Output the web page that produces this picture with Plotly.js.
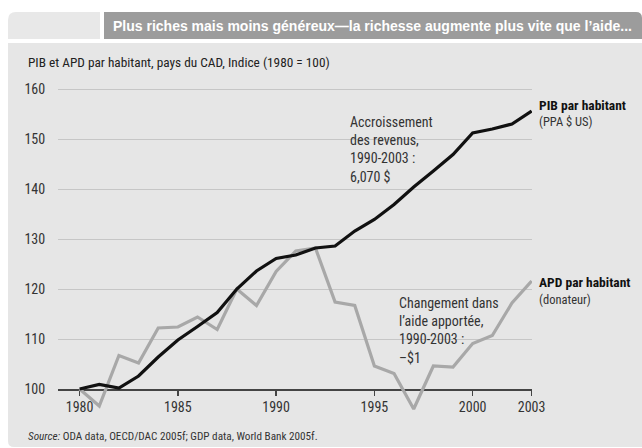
<!DOCTYPE html>
<html>
<head>
<meta charset="utf-8">
<script src="https://cdn.plot.ly/plotly-3.0.1.min.js"></script>
<style>html,body{margin:0;padding:0;background:#fff;overflow:hidden;}#chart{width:642px;height:448px;}</style>
</head>
<body>
<div id="chart"></div>
<script>
// ---- data ----
const years = [1980,1981,1982,1983,1984,1985,1986,1987,1988,1989,1990,1991,1992,1993,1994,1995,1996,1997,1998,1999,2000,2001,2002,2003];
const pibParHabitant = [100,100.9,100.2,102.6,106.4,109.8,112.5,115.3,120.0,123.6,126.1,126.8,128.2,128.6,131.6,133.9,136.9,140.4,143.6,146.9,151.2,152.0,153.0,155.6];
const apdParHabitant = [100,96.6,106.7,105.2,112.2,112.4,114.4,111.9,120.0,116.7,123.5,127.6,128.2,117.4,116.7,104.6,103.1,96.0,104.6,104.4,109.1,110.7,117.2,121.6];
const yTicks = [100,110,120,130,140,150,160];
const xTicks = [1980,1985,1990,1995,2000,2003];

const FONT = "'Liberation Sans Narrow', 'Arial Narrow', 'Roboto Condensed', sans-serif";
const HFONT = "'Liberation Sans', Arial, sans-serif";
const W = 642, H = 448;
const M = {l:58, r:110, t:84, b:34};
const PW = W - M.l - M.r, PH = H - M.t - M.b;
const px = x => (x - M.l) / PW;
const py = y => (H - M.b - y) / PH;

function roundRect(x0,y0,x1,y1,rtl,rtr,rbr,rbl){
  const P = (x,y)=> px(x).toFixed(5)+','+py(y).toFixed(5);
  let d = 'M'+P(x0+rtl,y0)+' L'+P(x1-rtr,y0);
  if(rtr) d += ' Q'+P(x1,y0)+' '+P(x1,y0+rtr);
  d += ' L'+P(x1,y1-rbr);
  if(rbr) d += ' Q'+P(x1,y1)+' '+P(x1-rbr,y1);
  d += ' L'+P(x0+rbl,y1);
  if(rbl) d += ' Q'+P(x0,y1)+' '+P(x0,y1-rbl);
  d += ' L'+P(x0,y0+rtl);
  if(rtl) d += ' Q'+P(x0,y0)+' '+P(x0+rtl,y0);
  return d+' Z';
}

const traces = [
  {x: years, y: apdParHabitant, type:'scatter', mode:'lines', name:'APD',
   line:{color:'#a8a8a8', width:3.2}, hoverinfo:'skip'},
  {x: years, y: pibParHabitant, type:'scatter', mode:'lines', name:'PIB',
   line:{color:'#111111', width:3.2}, hoverinfo:'skip'}
];

const shapes = [
  {type:'path', xref:'paper', yref:'paper', layer:'below', path: roundRect(8,43,643,447,0,0,0,6), fillcolor:'#e6e6e6', line:{width:0}},
  {type:'path', xref:'paper', yref:'paper', layer:'below', path: roundRect(8,12,100,39,8,0,0,0), fillcolor:'#e8e8e8', line:{width:0}},
  {type:'path', xref:'paper', yref:'paper', layer:'below', path: roundRect(104,12,642,39,0,6,0,0), fillcolor:'#9c9c9c', line:{width:0}},
  {type:'rect', xref:'paper', yref:'paper', layer:'between', x0:px(342), x1:px(430), y0:py(146), y1:py(136), fillcolor:'#e6e6e6', line:{width:0}}
];

const ann = (x,y,text,size,color,family)=>({xref:'paper', yref:'paper', x:px(x), y:py(y), text:text, showarrow:false,
  xanchor:'left', yanchor:'middle', align:'left', font:{family:family||FONT, size:size, color:color}});

const annotations = [
  ann(111,25.5,'<b>Plus riches mais moins généreux—la richesse augmente plus vite que l\u2019aide...</b>',14,'#ffffff',HFONT),
  ann(26,62,'PIB et APD par habitant, pays du CAD, Indice (1980 = 100)',13.3,'#222222'),
  ann(348,149,'Accroissement<br>des revenus,<br>1990-2003 :<br>6,070 $',14,'#333333'),
  ann(397,330,'Changement dans<br>l\u2019aide apportée,<br>1990-2003 :<br>\u2013$1',14,'#333333'),
  ann(537,105,'<b>PIB par habitant</b>',13.5,'#111111'),
  ann(537,122,'(PPA $ US)',12.5,'#333333'),
  ann(537,282,'<b>APD par habitant</b>',13.5,'#111111'),
  ann(537,299.5,'(donateur)',12.5,'#333333'),
  ann(25.5,436.5,'<i>Source:</i> ODA data, OECD/DAC 2005f; GDP data, World Bank 2005f.',11.2,'#333333')
];

const layout = {
  width:W, height:H, margin:M,
  paper_bgcolor:'#ffffff', plot_bgcolor:'rgba(0,0,0,0)',
  showlegend:false,
  xaxis:{range:[1978.9,2003.02], anchor:'free', position:((100-95)*5)/PH,
    tickvals:xTicks, ticktext:xTicks.map(String), ticks:'outside', ticklen:5, tickwidth:1.5, tickcolor:'#444',
    showline:true, linecolor:'#444', linewidth:1.5, showgrid:false, zeroline:false, layer:'below traces',
    tickfont:{family:FONT, size:14, color:'#333'}, fixedrange:true},
  yaxis:{range:[95,161], tickvals:yTicks, ticktext:yTicks.map(String), ticks:'outside', ticklen:9, tickcolor:'rgba(0,0,0,0)',
    showgrid:true, gridcolor:'#c6c6c6', gridwidth:1, zeroline:false, showline:false,
    tickfont:{family:FONT, size:14, color:'#333'}, fixedrange:true},
  shapes:shapes, annotations:annotations
};

Plotly.newPlot('chart', traces, layout, {displayModeBar:false, staticPlot:true});
</script>
</body>
</html>
